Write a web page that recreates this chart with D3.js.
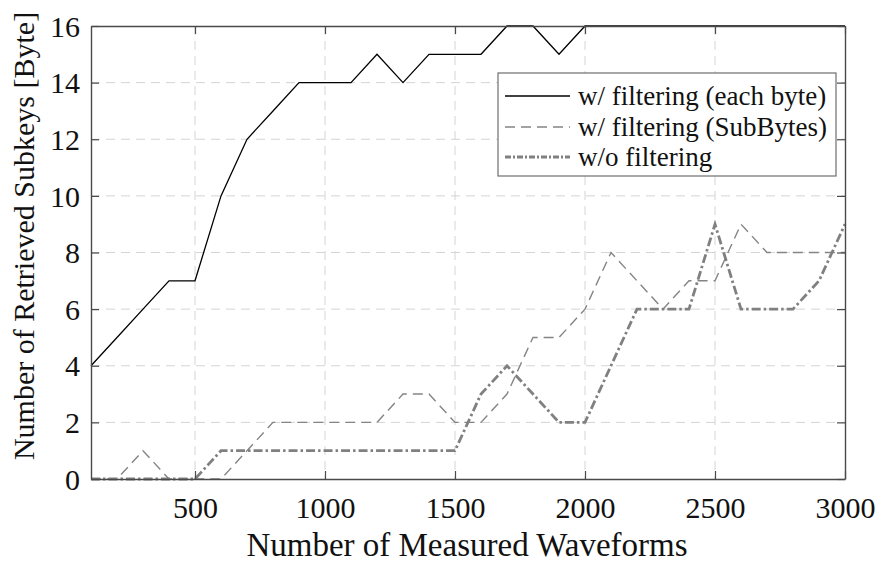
<!DOCTYPE html>
<html>
<head>
<meta charset="utf-8">
<script src="https://cdn.jsdelivr.net/npm/d3@7"></script>
</head>
<body style="margin:0;background:#fff">
<svg id="chart" width="877" height="563" font-family="Liberation Serif"></svg>
<script>
// ---- data ----
const waveforms = [100,200,300,400,500,600,700,800,900,1000,1100,1200,1300,1400,1500,1600,1700,1800,1900,2000,2100,2200,2300,2400,2500,2600,2700,2800,2900,3000];
const eachByte  = [4,5,6,7,7,10,12,13,14,14,14,15,14,15,15,15,16,16,15,16,16,16,16,16,16,16,16,16,16,16];
const subBytes  = [0,0,1,0,0,0,1,2,2,2,2,2,3,3,2,2,3,5,5,6,8,7,6,7,7,9,8,8,8,8];
const noFilter  = [0,0,0,0,0,1,1,1,1,1,1,1,1,1,1,3,4,3,2,2,4,6,6,6,9,6,6,6,7,9];
const xTicks = [500,1000,1500,2000,2500,3000];
const yTicks = [0,2,4,6,8,10,12,14,16];
const seriesNames = ["w/ filtering (each byte)", "w/ filtering (SubBytes)", "w/o filtering"];
const xLabel = "Number of Measured Waveforms";
const yLabel = "Number of Retrieved Subkeys [Byte]";

// ---- layout ----
const L = 91, R = 845, T = 26, B = 479;
const FONT = "Times New Roman";
const svg = d3.select("#chart");
const x = d3.scaleLinear().domain([100, 3000]).range([L, R]);
const y = d3.scaleLinear().domain([0, 16]).range([B, T]);

// grid
const grid = svg.append("g").attr("stroke", "#d4d4d4").attr("stroke-width", 1).attr("stroke-dasharray", "9,6");
grid.selectAll(".gx").data(xTicks.filter(d => d < 3000)).join("line")
  .attr("x1", d => x(d)).attr("x2", d => x(d)).attr("y1", T).attr("y2", B);
grid.selectAll(".gy").data(yTicks.filter(d => d > 0 && d < 16)).join("line")
  .attr("x1", L).attr("x2", R).attr("y1", d => y(d)).attr("y2", d => y(d));

// series
const styles = [
  { data: eachByte, color: "#000", width: 1.3, dash: null },
  { data: subBytes, color: "#848484", width: 1.4, dash: "10,6" },
  { data: noFilter, color: "#808080", width: 2.8, dash: "9,3,2.5,3" }
];
const line = d3.line().x(d => x(d[0])).y(d => y(d[1]));
styles.forEach(s => {
  svg.append("path")
    .datum(waveforms.map((w, i) => [w, s.data[i]]))
    .attr("fill", "none")
    .attr("stroke", s.color)
    .attr("stroke-width", s.width)
    .attr("stroke-dasharray", s.dash)
    .attr("stroke-linejoin", "miter")
    .attr("d", line);
});

// axes (box with inward ticks on all four sides)
const axisColor = "#4a4a4a";
const tickLen = 8;
const fmt = d3.format("d");
const ax = svg.append("g");
const xb = ax.append("g").attr("transform", `translate(0,${B})`)
  .call(d3.axisBottom(x).tickValues(xTicks).tickFormat(fmt).tickSizeInner(-tickLen).tickSizeOuter(0).tickPadding(20));
const xt = ax.append("g").attr("transform", `translate(0,${T})`)
  .call(d3.axisTop(x).tickValues(xTicks).tickSizeInner(-tickLen).tickSizeOuter(0).tickFormat(""));
const yl = ax.append("g").attr("transform", `translate(${L},0)`)
  .call(d3.axisLeft(y).tickValues(yTicks).tickFormat(fmt).tickSizeInner(-tickLen).tickSizeOuter(0).tickPadding(11));
const yr = ax.append("g").attr("transform", `translate(${R},0)`)
  .call(d3.axisRight(y).tickValues(yTicks).tickSizeInner(-tickLen).tickSizeOuter(0).tickFormat(""));
ax.selectAll("g").attr("font-family", FONT);
ax.selectAll(".domain").attr("stroke", axisColor).attr("stroke-width", 1.4);
ax.selectAll(".tick line").attr("stroke", axisColor).attr("stroke-width", 1.2);
ax.selectAll(".tick text").attr("font-family", FONT).attr("font-size", 30).attr("fill", "#111");
xb.selectAll(".tick text").attr("dy", null).attr("y", 39);
yl.selectAll(".tick text").attr("dy", "0.34em");

// axis titles
svg.append("text").attr("x", 467).attr("y", 556).attr("text-anchor", "middle").attr("fill", "#111")
  .attr("font-family", FONT).attr("font-size", 33).text(xLabel);
svg.append("text").attr("transform", "translate(34,236) rotate(-90)").attr("text-anchor", "middle").attr("fill", "#111")
  .attr("font-family", FONT).attr("font-size", 30).text(yLabel);

// legend
const lg = svg.append("g");
lg.append("rect").attr("x", 498).attr("y", 73).attr("width", 338).attr("height", 103)
  .attr("fill", "#fff").attr("stroke", "#6e6e6e").attr("stroke-width", 1.2);
const rowY = [96, 127, 157];
styles.forEach((s, i) => {
  lg.append("line").attr("x1", 505).attr("x2", 570).attr("y1", rowY[i]).attr("y2", rowY[i])
    .attr("stroke", s.color).attr("stroke-width", s.width)
    .attr("stroke-dasharray", i === 2 ? "6,2,2,2" : s.dash);
  lg.append("text").attr("x", 578).attr("y", rowY[i]).attr("dy", "0.33em").attr("fill", "#111")
    .attr("font-family", FONT).attr("font-size", 27).text(seriesNames[i]);
});
</script>
</body>
</html>
